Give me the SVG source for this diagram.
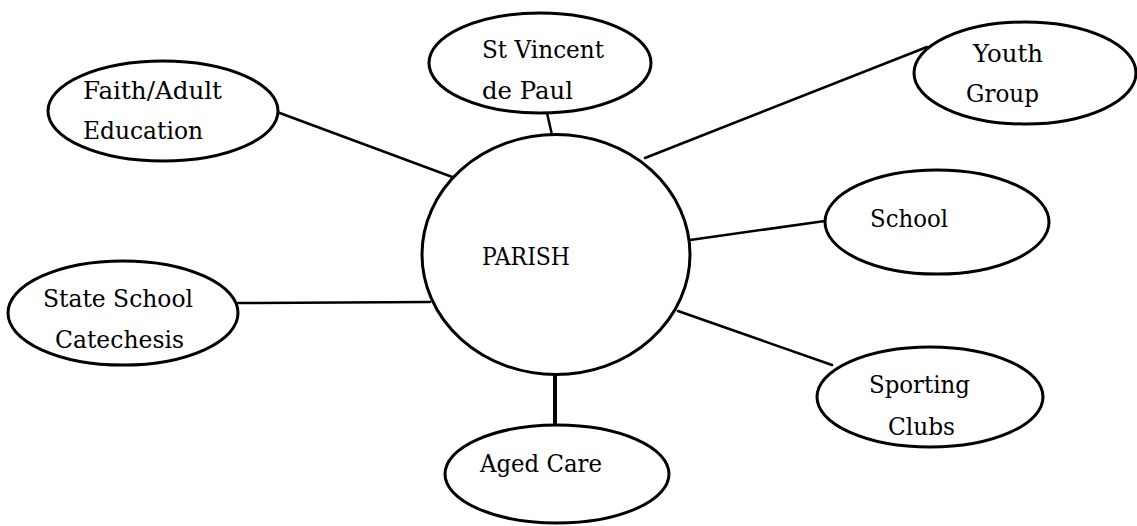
<svg xmlns="http://www.w3.org/2000/svg" width="1137" height="526" viewBox="0 0 1137 526">
<style>
.bg{fill:#fff}
.node ellipse{fill:#fff;stroke:#000;stroke-width:3}
.conn line{stroke:#000;stroke-width:2.5;stroke-linecap:round}
text{font-family:"DejaVu Serif","Liberation Serif",serif;font-size:23.5px;fill:#000}
</style>
<rect class="bg" width="1137" height="526"/>
<g id="connectors" class="conn">
<line x1="277" y1="112" x2="455" y2="178"/>
<line x1="547" y1="113" x2="552" y2="135"/>
<line x1="927" y1="47" x2="645" y2="158"/>
<line x1="690" y1="240" x2="825" y2="221"/>
<line x1="678" y1="311" x2="832" y2="365"/>
<line x1="238" y1="303" x2="430" y2="302"/>
<line x1="555" y1="374" x2="555" y2="425" style="stroke-width:4"/>
</g>
<g id="parish" class="node">
<ellipse cx="556" cy="254.5" rx="134" ry="120"/>
<text x="482" y="265" textLength="88" lengthAdjust="spacingAndGlyphs">PARISH</text>
</g>
<g id="faith" class="node">
<ellipse cx="163" cy="111" rx="115" ry="50"/>
<text x="83" y="99" textLength="139" lengthAdjust="spacingAndGlyphs">Faith/Adult</text>
<text x="83" y="139" textLength="120" lengthAdjust="spacingAndGlyphs">Education</text>
</g>
<g id="vincent" class="node">
<ellipse cx="540" cy="63" rx="111" ry="50"/>
<text x="482" y="58" textLength="122" lengthAdjust="spacingAndGlyphs">St Vincent</text>
<text x="482" y="99" textLength="91" lengthAdjust="spacingAndGlyphs">de Paul</text>
</g>
<g id="youth" class="node">
<ellipse cx="1025" cy="73" rx="111" ry="51"/>
<text x="973" y="62" textLength="70" lengthAdjust="spacingAndGlyphs">Youth</text>
<text x="966" y="102" textLength="73" lengthAdjust="spacingAndGlyphs">Group</text>
</g>
<g id="school" class="node">
<ellipse cx="937" cy="222" rx="112" ry="52"/>
<text x="870" y="227" textLength="78" lengthAdjust="spacingAndGlyphs">School</text>
</g>
<g id="sporting" class="node">
<ellipse cx="930" cy="397" rx="113" ry="50"/>
<text x="869" y="393" textLength="101" lengthAdjust="spacingAndGlyphs">Sporting</text>
<text x="888" y="435" textLength="67" lengthAdjust="spacingAndGlyphs">Clubs</text>
</g>
<g id="state" class="node">
<ellipse cx="123" cy="313" rx="115" ry="52"/>
<text x="43" y="307" textLength="150" lengthAdjust="spacingAndGlyphs">State School</text>
<text x="55" y="348" textLength="129" lengthAdjust="spacingAndGlyphs">Catechesis</text>
</g>
<g id="aged" class="node">
<ellipse cx="557" cy="474" rx="112" ry="49"/>
<text x="480" y="472" textLength="122" lengthAdjust="spacingAndGlyphs">Aged Care</text>
</g>
</svg>
